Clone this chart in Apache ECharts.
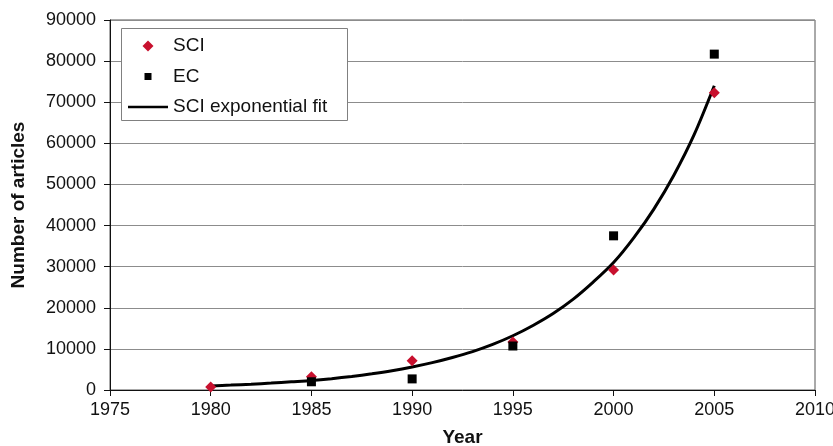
<!DOCTYPE html>
<html>
<head>
<meta charset="utf-8">
<script src="https://cdn.jsdelivr.net/npm/echarts@6/dist/echarts.min.js"></script>
<style>html,body{margin:0;padding:0;background:#fff}#c{width:833px;height:446px}</style>
</head>
<body>
<div id="c"></div>
<script>
// Data
const sciYears = [1980, 1985, 1990, 1995, 2000, 2005];
const sciValues = [700, 3200, 7100, 11700, 29200, 72300];
const ecYears = [1985, 1990, 1995, 2000, 2005];
const ecValues = [2000, 2700, 10700, 37500, 81700];
const fitYears = [1980,1981,1982,1983,1984,1985,1986,1987,1988,1989,1990,1991,1992,1993,1994,1995,1996,1997,1998,1999,2000,2001,2002,2003,2004,2005];
const fitValues = [1000,1190,1410,1680,1990,2300,2750,3300,3950,4700,5600,6650,7900,9350,11100,13200,15700,18600,22100,26300,31000,37000,44000,52300,62100,74000];
const xTicks = {min: 1975, max: 2010, interval: 5};
const yTicks = {min: 0, max: 90000, interval: 10000};

const pairs = (xs, ys) => xs.map((x, i) => [x, ys[i]]);
const FONT = 'Liberation Sans, Arial, sans-serif';

const chart = echarts.init(document.getElementById('c'), null, {renderer: 'canvas'});
chart.setOption({
  animation: false,
  backgroundColor: '#fff',
  grid: {left: 110, right: 18, top: 20, bottom: 56, show: true, borderColor: '#555', borderWidth: 1,
         containLabel: false, outerBoundsMode: 'none'},
  xAxis: {
    type: 'value', min: xTicks.min, max: xTicks.max, interval: xTicks.interval,
    name: 'Year', nameLocation: 'middle', nameGap: 38,
    nameTextStyle: {fontFamily: FONT, fontSize: 19, fontWeight: 'bold', color: '#111'},
    axisLine: {show: true, lineStyle: {color: '#111', width: 1}},
    axisTick: {show: true, length: 6, lineStyle: {color: '#111'}},
    axisLabel: {fontFamily: FONT, fontSize: 18, color: '#111', margin: 11, formatter: v => String(v)},
    splitLine: {show: false}
  },
  yAxis: {
    type: 'value', min: yTicks.min, max: yTicks.max, interval: yTicks.interval,
    name: 'Number of articles', nameLocation: 'middle', nameGap: 82,
    nameTextStyle: {fontFamily: FONT, fontSize: 19, fontWeight: 'bold', color: '#111'},
    axisLine: {show: true, lineStyle: {color: '#111', width: 1}},
    axisTick: {show: true, length: 6, lineStyle: {color: '#111'}},
    axisLabel: {fontFamily: FONT, fontSize: 18, color: '#111', margin: 14, formatter: v => String(v)},
    splitLine: {show: true, lineStyle: {color: '#8c8c8c', width: 1}}
  },
  graphic: [{
    type: 'rect', left: 121, top: 28, z: 100,
    shape: {width: 226, height: 92},
    style: {fill: '#fff', stroke: '#808080', lineWidth: 1}
  }],
  legend: {
    orient: 'vertical', left: 128, top: 36.5, z: 200, padding: 0,
    itemWidth: 40, itemHeight: 11, itemGap: 11.5, symbolKeepAspect: true,
    textStyle: {fontFamily: FONT, fontSize: 19, color: '#111', lineHeight: 19},
    data: [
      {name: 'SCI', icon: 'path://M0,-1L1,0L0,1L-1,0Z', itemStyle: {color: '#c8102e'}},
      {name: 'EC', icon: 'path://M0,0M11,11M2,2L9,2L9,9L2,9Z', itemStyle: {color: '#000'}},
      {name: 'SCI exponential fit', icon: 'path://M0,0L40,0L40,2.6L0,2.6Z', itemStyle: {color: '#000'}}
    ]
  },
  series: [
    {
      name: 'SCI exponential fit', type: 'line', data: pairs(fitYears, fitValues),
      showSymbol: false, symbol: 'none', smooth: 0.3, z: 2,
      lineStyle: {color: '#000', width: 3}, itemStyle: {color: '#000'}
    },
    {
      name: 'SCI', type: 'scatter', data: pairs(sciYears, sciValues),
      symbol: 'diamond', symbolSize: 11, z: 3,
      itemStyle: {color: '#c8102e', opacity: 1}
    },
    {
      name: 'EC', type: 'scatter', data: pairs(ecYears, ecValues),
      symbol: 'rect', symbolSize: 9, z: 4,
      itemStyle: {color: '#000', opacity: 1}
    }
  ]
});
</script>
</body>
</html>
